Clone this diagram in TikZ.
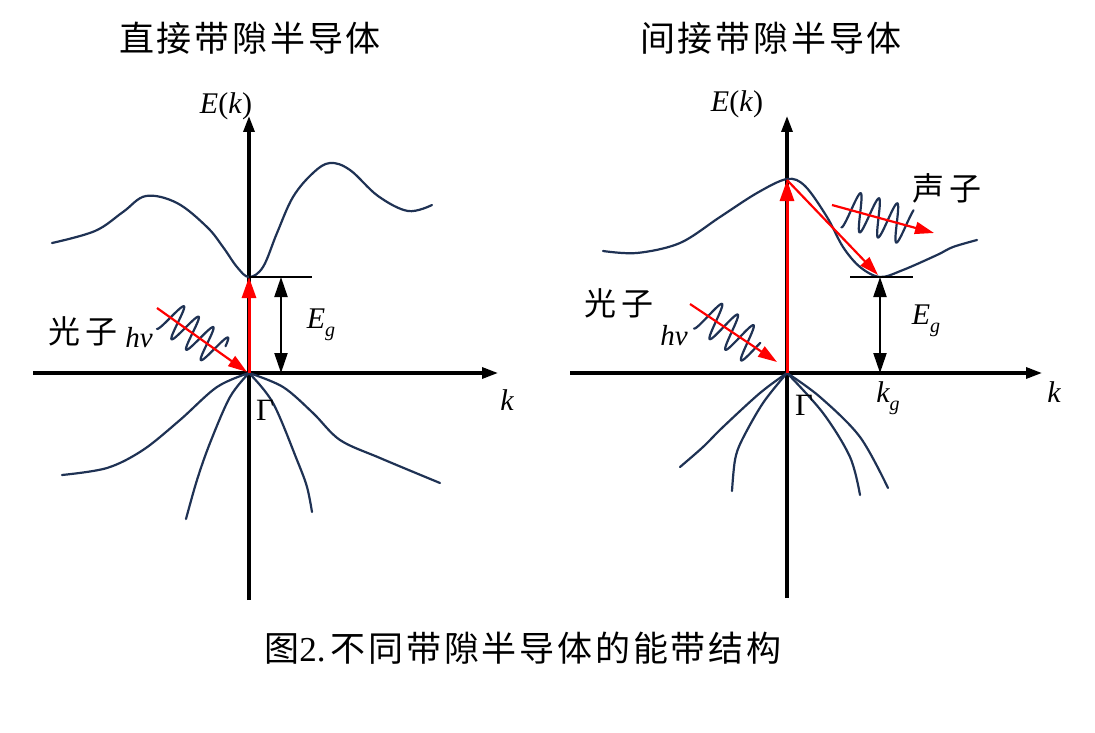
\documentclass[tikz,border=0pt]{standalone}
\usepackage{fontspec}
\setmainfont{Liberation Serif}
\newfontfamily\cjktitle{Noto Sans CJK SC}[LetterSpace=8]
\newfontfamily\cjkcap{Noto Sans CJK SC}[LetterSpace=8]
\newfontfamily\cjksm{Noto Sans CJK SC}[LetterSpace=16]
\usetikzlibrary{arrows.meta}
\definecolor{bandc}{RGB}{31,50,84}
\newcommand{\mywave}[7]{%
  \draw[bandline] plot[domain=#4:#5,samples=200,smooth]
   ({#1+\x*cos(#3)-#7*cos(((\x-#4)/#6)*360)*sin(#3)},
    {#2+\x*sin(#3)+#7*cos(((\x-#4)/#6)*360)*cos(#3)});}
\begin{document}
\begin{tikzpicture}[x=1pt,y=-1pt,
  axis/.style={line width=3.2pt,-{Triangle[length=16pt,width=11pt]}},
  bandline/.style={draw=bandc,line width=2.2pt,line cap=round},
  redarr/.style={color=red,line width=2.2pt,-{Triangle[length=19pt,width=12pt]}},
  redvert/.style={color=red,line width=3pt,-{Triangle[length=21pt,width=14pt]}},
  gaparr/.style={line width=2.2pt,{Triangle[length=20pt,width=13pt]}-{Triangle[length=20pt,width=13pt]}},
  levline/.style={line width=2.2pt},
  lbl/.style={font=\fontsize{30}{32}\selectfont\itshape,inner sep=0pt},
  uplbl/.style={font=\fontsize{31}{32}\selectfont,inner sep=0pt},
  title/.style={font=\fontsize{35}{38}\selectfont\cjktitle,inner sep=0pt},
  smallcjk/.style={font=\fontsize{32}{34}\selectfont\cjksm,inner sep=0pt},
  caption/.style={font=\fontsize{35}{38}\selectfont,inner sep=0pt}
]
\useasboundingbox (0,0) rectangle (1095,733);

% ---------------- titles ----------------
\node[title] (t1) at (250,38) {直接带隙半导体};
\node[title] (t2) at (771,38) {间接带隙半导体};
\node[caption] (cap) at (523,648) {{\cjkcap 图}{\fontsize{35}{38}\selectfont 2.}\hspace{5pt}{\cjkcap 不同带隙半导体的能带结构}};

% ---------------- left panel ----------------
\coordinate (ax1b) at (249,600);
\coordinate (ax1t) at (249,116);
\coordinate (ax1l) at (33,373);
\coordinate (ax1r) at (498,373);
\coordinate (G1) at (249,373);
\coordinate (CB1) at (249,277);
\coordinate (lv1e) at (312,277);
\coordinate (gap1t) at (281,277);
\coordinate (gap1b) at (281,373);
\coordinate (ph1s) at (157,308);
\coordinate (ph1e) at (247,372);

\draw[axis] (ax1b) -- (ax1t);
\draw[axis] (ax1l) -- (ax1r);

% conduction band
\draw[bandline] plot[smooth,tension=0.6] coordinates {(52,243) (95,231) (123,212) (146,196) (177,203) (207,227) (223,247) (237,267) (249,277) (263,267) (277,233) (293,197) (313,173) (330,163) (350,170) (378,196) (408,211) (432,205)};
% valence bands
\draw[bandline] plot[smooth,tension=0.55] coordinates {(249,373) (217,387) (180,420) (143,450) (107,468) (62,475)};
\draw[bandline] plot[smooth,tension=0.55] coordinates {(249,373) (230,397) (210,443) (197,480) (186,519)};
\draw[bandline] plot[smooth,tension=0.55] coordinates {(249,373) (273,403) (297,460) (307,487) (312,512)};
\draw[bandline] plot[smooth,tension=0.55] coordinates {(249,373) (283,387) (313,413) (340,440) (380,458) (440,483)};

\draw[levline] (CB1) -- (lv1e);
\draw[gaparr] (gap1t) -- (gap1b);
\draw[redvert] (G1) -- (CB1);
\mywave{157}{308}{35.4}{12}{78}{18}{17}
\draw[redarr] (ph1s) -- (ph1e);

\node[lbl] (E1) at (226,106) {E\textup{(}k\textup{)}};
\node[lbl] (k1) at (507,400) {k};
\node[uplbl] (Gam1) at (265,410) {Γ};
\node[lbl] (Eg1) at (321,325) {E\raisebox{-8pt}{\fontsize{20}{20}\selectfont g}};
\node[smallcjk] (gz1) at (83,331) {光子};
\node[lbl,font=\fontsize{29}{32}\selectfont\itshape] (hv1) at (139,338) {hν};

% ---------------- right panel ----------------
\coordinate (ax2b) at (787,598);
\coordinate (ax2t) at (787,116);
\coordinate (ax2l) at (570,373);
\coordinate (ax2r) at (1042,373);
\coordinate (G2) at (787,373);
\coordinate (top2) at (787,180);
\coordinate (CB2) at (878,275);
\coordinate (lv2s) at (850,277);
\coordinate (lv2e) at (913,277);
\coordinate (gap2t) at (880,277);
\coordinate (gap2b) at (880,373);
\coordinate (ph2s) at (690,304);
\coordinate (ph2e) at (777,362);
\coordinate (pn2s) at (832,205);
\coordinate (pn2e) at (934,233);

\draw[axis] (ax2b) -- (ax2t);
\draw[axis] (ax2l) -- (ax2r);

\draw[bandline] plot[smooth,tension=0.55] coordinates {(603,251) (637,253) (680,243) (720,217) (757,193) (787,179) (805,186) (827,217) (843,247) (860,267) (880,277) (903,270) (937,255) (953,247) (977,240)};
\draw[bandline] plot[smooth,tension=0.55] coordinates {(787,373) (760,393) (723,427) (703,447) (680,467)};
\draw[bandline] plot[smooth,tension=0.55] coordinates {(787,373) (763,403) (742,440) (735,460) (732,491)};
\draw[bandline] plot[smooth,tension=0.55] coordinates {(787,373) (823,413) (850,457) (860,495)};
\draw[bandline] plot[smooth,tension=0.55] coordinates {(787,373) (820,397) (860,437) (888,488)};

\draw[levline] (lv2s) -- (lv2e);
\draw[gaparr] (gap2t) -- (gap2b);
\draw[redvert] (G2) -- (top2);
\draw[redarr] (top2) -- (CB2);
\mywave{690}{304}{34.1}{17}{80}{19}{18}
\draw[redarr] (ph2s) -- (ph2e);
\mywave{832}{205}{15.5}{15}{80}{19}{19}
\draw[redarr] (pn2s) -- (pn2e);

\node[lbl] (E2) at (737,104) {E\textup{(}k\textup{)}};
\node[lbl] (k2) at (1054,392) {k};
\node[uplbl] (Gam2) at (804,405) {Γ};
\node[lbl] (Eg2) at (926,321) {E\raisebox{-8pt}{\fontsize{20}{20}\selectfont g}};
\node[lbl] (kg2) at (888,398) {k\raisebox{-8pt}{\fontsize{20}{20}\selectfont g}};
\node[smallcjk] (gz2) at (619,303) {光子};
\node[smallcjk] (sz2) at (947,188) {声子};
\node[lbl,font=\fontsize{29}{32}\selectfont\itshape] (hv2) at (674,336) {hν};
\end{tikzpicture}
\end{document}
